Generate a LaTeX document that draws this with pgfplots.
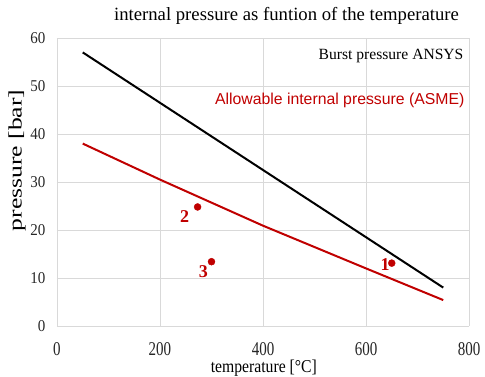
\documentclass[border=0pt]{standalone}
\usepackage{fontspec}
\setmainfont{Liberation Serif}
\newfontfamily\arialfont{Liberation Sans}
\usepackage{graphicx}
\usepackage{pgfplots}
\pgfplotsset{compat=1.18}
\definecolor{cred}{RGB}{192,0,0}
\definecolor{cgrid}{RGB}{217,217,217}
\begin{document}
\begin{tikzpicture}[x=1pt,y=1pt]
\begin{axis}[
  scale only axis, width=412pt, height=288pt,
  xmin=0, xmax=800, ymin=0, ymax=60,
  xtick={0,200,...,800}, ytick={0,10,...,60},
  grid=major,
  major grid style={cgrid, line width=0.8pt},
  axis line style={draw=none},
  tick style={draw=none},
  /pgf/number format/assume math mode=true,
  xticklabel={\scalebox{1}[1.3]{\pgfmathprintnumber{\tick}}},
  yticklabel={\scalebox{1}[1.1]{\pgfmathprintnumber{\tick}}},
  ticklabel style={font=\fontsize{15}{15}\selectfont, text=black!85},
  xticklabel style={anchor=center, yshift=-23pt},
  yticklabel style={anchor=east, xshift=-8pt},
  title={internal pressure as funtion of the temperature},
  title style={font=\fontsize{18.7}{18}\selectfont, at={(axis description cs:0.557,1.083)}, anchor=center, yshift=-8pt},
  xlabel={\scalebox{1}[1.15]{temperature [°C]}},
  xlabel style={font=\fontsize{15.7}{15}\selectfont, at={(axis description cs:0.502,-0.146)}, anchor=center},
  ylabel={\scalebox{1.35}[1]{pressure [bar]}},
  ylabel style={font=\fontsize{19}{19}\selectfont, at={(axis description cs:-0.097,0.575)}, anchor=center},
  clip=false,
]
\coordinate (SW) at (rel axis cs:0,0);
\addplot[black, line width=2pt] coordinates {(50,57) (750,8)};
\addplot[cred, line width=2pt] coordinates {(50,38) (200,30.5) (400,20.9) (600,12) (750,5.4)};
\addplot[only marks, mark=*, mark size=3.5pt, cred] coordinates {(273,24.8) (300,13.4) (650,13.1)};
\node[anchor=east, font=\fontsize{15.6}{15}\selectfont] at (axis cs:796,56.3) {Burst pressure ANSYS};
\node[anchor=east, font=\arialfont\fontsize{15.8}{15}\selectfont, text=cred] at (axis cs:798,47) {Allowable internal pressure (ASME)};
\node[font=\bfseries\fontsize{18}{18}\selectfont, text=cred] at (axis cs:248,22.8) {2};
\node[font=\bfseries\fontsize{18}{18}\selectfont, text=cred] at (axis cs:284,11.3) {3};
\node[font=\bfseries\fontsize{18}{18}\selectfont, text=cred] at (axis cs:637,12.7) {1};
\end{axis}
\pgfresetboundingbox
\path[use as bounding box] ([shift={(-57pt,-50pt)}]SW) rectangle ++(485pt,376pt);
\end{tikzpicture}
\end{document}
